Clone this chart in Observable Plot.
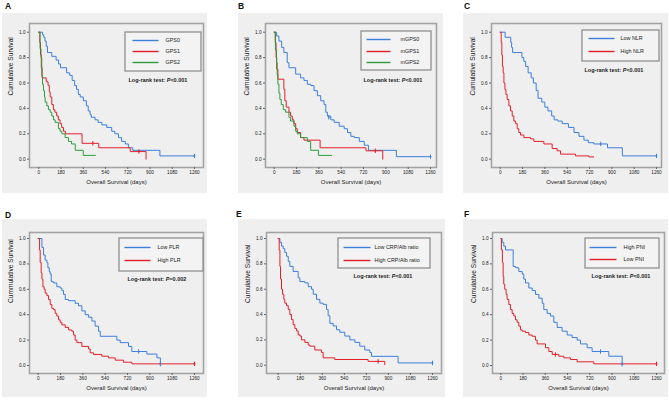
<!DOCTYPE html>
<html><head><meta charset="utf-8">
<script src="https://cdn.jsdelivr.net/npm/d3@7"></script>
<script src="https://cdn.jsdelivr.net/npm/@observablehq/plot@0.6"></script>
<style>
body{margin:0;background:#fff;}
#root{position:relative;width:669px;height:401px;overflow:hidden;font-family:"Liberation Sans",Arial,sans-serif;background:#fff;}
.letter{position:absolute;font-weight:bold;font-size:8.5px;color:#111;line-height:8.5px;}
.bg{position:absolute;background:#efefef;}
.bg svg{position:absolute;left:0;top:0;}
</style></head><body><div id="root"></div><script>
// ---------- tick labels ----------
const ticksX = [0, 180, 360, 540, 720, 900, 1080, 1260];
const ticksY = [0, 0.2, 0.4, 0.6, 0.8, 1.0];
const xTitle = "Overall Survival (days)";
const yTitles = ["Cumulative Survival","Cumulative Survival","Cumulative Survival","Cummulative Survival","Cumulative Survival","Cumulative Survival"];
const panelLetters = ["A","B","C","D","E","F"];
const logRank = ["P<0.001","P<0.001","P<0.001","P=0.002","P<0.001","P<0.001"];

// ---------- series names ----------
const namesA = ["GPS0","GPS1","GPS2"];
const namesB = ["mGPS0","mGPS1","mGPS2"];
const namesC = ["Low NLR","High NLR"];
const namesD = ["Low PLR","High PLR"];
const namesE = ["Low CRP/Alb ratio","High CRP/Alb ratio"];
const namesF = ["High PNI","Low PNI"];

// ---------- Kaplan-Meier steps [day, survival] ----------
const A_GPS0 = [[0,1],[30,0.98],[40,0.96],[50,0.93],[60,0.89],[70,0.84],[105,0.81],[140,0.78],[160,0.75],[175,0.72],[225,0.68],[250,0.66],[270,0.62],[290,0.58],[305,0.55],[320,0.51],[335,0.49],[360,0.46],[385,0.42],[400,0.38],[415,0.35],[425,0.33],[455,0.31],[480,0.29],[510,0.27],[550,0.25],[590,0.22],[615,0.20],[645,0.17],[670,0.14],[700,0.12],[725,0.09],[760,0.07],[980,0.026],[1260,0.026]];
const A_GPS1 = [[0,1],[8,0.92],[14,0.82],[20,0.72],[27,0.64],[60,0.61],[75,0.58],[85,0.53],[92,0.49],[105,0.43],[118,0.39],[130,0.37],[145,0.34],[158,0.31],[172,0.28],[185,0.25],[200,0.22],[215,0.20],[350,0.125],[485,0.09],[740,0.06],[868,0]];
const A_GPS2 = [[0,1],[10,0.87],[18,0.80],[24,0.66],[30,0.59],[38,0.54],[46,0.49],[51,0.45],[65,0.42],[78,0.39],[92,0.37],[105,0.34],[119,0.31],[132,0.29],[159,0.24],[173,0.22],[186,0.20],[213,0.17],[240,0.14],[265,0.12],[295,0.07],[360,0.03],[459,0.03]];
const A_cens = [[1260,0.026,"GPS0"],[437,0.125,"GPS1"],[810,0.06,"GPS1"]];

const B_mGPS0 = [[0,1],[19,0.97],[38,0.93],[60,0.88],[78,0.84],[105,0.76],[119,0.72],[173,0.67],[213,0.64],[240,0.62],[267,0.59],[294,0.58],[321,0.54],[348,0.50],[375,0.46],[402,0.43],[416,0.37],[429,0.34],[456,0.31],[483,0.29],[524,0.26],[564,0.24],[591,0.21],[618,0.18],[645,0.17],[686,0.14],[726,0.11],[760,0.07],[985,0.02],[1260,0.02]];
const B_mGPS1 = [[0,1],[8,0.92],[15,0.80],[20,0.71],[30,0.63],[78,0.55],[86,0.46],[97,0.41],[119,0.37],[132,0.34],[146,0.31],[159,0.28],[173,0.24],[186,0.21],[213,0.17],[240,0.15],[370,0.09],[740,0.066],[875,0]];
const B_mGPS2 = [[0,1],[10,0.86],[19,0.76],[24,0.66],[30,0.59],[38,0.52],[46,0.47],[57,0.43],[73,0.39],[92,0.37],[119,0.33],[132,0.30],[159,0.26],[173,0.22],[186,0.20],[213,0.17],[267,0.14],[294,0.07],[357,0.03],[464,0.03]];
const B_cens = [[440,0.33,"mGPS0"],[1260,0.02,"mGPS0"],[815,0.066,"mGPS1"]];

const C_low = [[0,1],[40,0.96],[85,0.92],[92,0.88],[100,0.84],[175,0.80],[190,0.77],[205,0.73],[225,0.68],[250,0.64],[268,0.60],[290,0.54],[305,0.48],[335,0.45],[360,0.41],[385,0.38],[415,0.34],[435,0.31],[465,0.30],[500,0.28],[550,0.25],[595,0.21],[635,0.18],[675,0.15],[710,0.13],[755,0.12],[865,0.09],[985,0.026],[1260,0.026]];
const C_high = [[0,1],[8,0.92],[13,0.82],[18,0.73],[24,0.68],[30,0.60],[38,0.55],[46,0.51],[56,0.47],[70,0.42],[83,0.38],[97,0.34],[110,0.30],[124,0.28],[137,0.24],[150,0.21],[164,0.19],[191,0.17],[245,0.16],[271,0.14],[352,0.12],[419,0.084],[459,0.066],[486,0.04],[607,0.026],[715,0.018],[755,0.018]];
const C_cens = [[810,0.12,"Low NLR"],[1260,0.026,"Low NLR"]];

const D_low = [[0,1],[30,0.93],[43,0.87],[56,0.83],[70,0.81],[78,0.77],[89,0.74],[97,0.72],[105,0.66],[124,0.65],[150,0.62],[177,0.61],[191,0.59],[204,0.56],[218,0.52],[245,0.51],[298,0.49],[325,0.47],[352,0.43],[379,0.40],[406,0.38],[433,0.35],[459,0.31],[486,0.27],[500,0.23],[634,0.20],[661,0.18],[728,0.15],[755,0.11],[876,0.09],[957,0.06],[985,0.01]];
const D_high = [[0,1],[11,0.91],[16,0.81],[24,0.73],[30,0.68],[38,0.62],[48,0.60],[56,0.57],[70,0.55],[83,0.52],[97,0.48],[110,0.45],[124,0.44],[137,0.41],[150,0.39],[164,0.36],[177,0.34],[191,0.32],[218,0.30],[245,0.28],[271,0.27],[285,0.24],[298,0.20],[312,0.18],[352,0.15],[406,0.13],[419,0.10],[446,0.087],[513,0.073],[567,0.06],[621,0.042],[688,0.026],[755,0.013],[1260,0.013]];
const D_cens = [[810,0.11,"Low PLR"],[985,0.01,"Low PLR"],[1260,0.013,"High PLR"]];

const E_low = [[0,1],[14,0.97],[27,0.94],[41,0.92],[54,0.89],[68,0.86],[82,0.82],[95,0.78],[122,0.74],[163,0.69],[177,0.66],[218,0.65],[245,0.62],[272,0.60],[286,0.56],[313,0.52],[340,0.49],[367,0.48],[394,0.44],[408,0.39],[422,0.33],[449,0.31],[476,0.28],[503,0.26],[544,0.23],[585,0.20],[626,0.18],[666,0.15],[707,0.12],[748,0.10],[762,0.07],[979,0.018],[1260,0.018]];
const E_high = [[0,1],[8,0.91],[14,0.78],[19,0.68],[27,0.60],[35,0.56],[46,0.52],[54,0.49],[68,0.47],[82,0.44],[95,0.40],[109,0.36],[122,0.32],[136,0.29],[150,0.27],[163,0.24],[177,0.23],[190,0.20],[218,0.18],[245,0.16],[258,0.15],[299,0.12],[354,0.10],[367,0.058],[462,0.045],[734,0.03],[870,0.005]];
const E_cens = [[1260,0.018,"Low CRP/Alb ratio"],[816,0.03,"High CRP/Alb ratio"]];

const F_high = [[0,1],[11,0.97],[24,0.94],[38,0.91],[100,0.78],[119,0.77],[146,0.74],[173,0.72],[186,0.68],[200,0.65],[227,0.61],[254,0.59],[281,0.56],[308,0.53],[335,0.49],[348,0.44],[375,0.41],[402,0.39],[429,0.34],[456,0.30],[496,0.27],[537,0.24],[577,0.22],[618,0.20],[645,0.17],[699,0.14],[739,0.11],[874,0.073],[982,0.01]];
const F_low = [[0,1],[5,0.91],[13,0.81],[19,0.70],[24,0.64],[32,0.60],[43,0.56],[51,0.52],[65,0.48],[78,0.44],[92,0.41],[105,0.39],[119,0.36],[132,0.34],[146,0.31],[159,0.28],[173,0.27],[200,0.26],[227,0.24],[254,0.23],[281,0.20],[294,0.17],[362,0.14],[389,0.11],[416,0.087],[469,0.073],[510,0.06],[564,0.047],[618,0.029],[753,0.013],[1260,0.013]];
const F_cens = [[807,0.11,"High PNI"],[982,0.01,"High PNI"],[442,0.087,"Low PNI"],[1260,0.013,"Low PNI"]];

// ---------- colours ----------
const BLUE = "#3c7fdc", RED = "#e3202a", GREEN = "#2e9c3c";

// ---------- panel layout (page pixels) ----------
const panels = [
  {letter:[5,9.5], bg:[2,13,207,193], frame:[29,23,203,167], xpx:[38.3,194], ypx:[158.7,31.7],
   names:namesA, colors:[BLUE,RED,GREEN], series:[A_GPS0,A_GPS1,A_GPS2], cens:A_cens,
   leg:{box:[125,32,201,71], line:[132,158], rows:[40,51,62], tx:165}, lr:[128,79.5]},
  {letter:[238,9.5], bg:[238,13,443,193], frame:[265,23,436,167], xpx:[273.7,430], ypx:[158.7,31.7],
   names:namesB, colors:[BLUE,RED,GREEN], series:[B_mGPS0,B_mGPS1,B_mGPS2], cens:B_cens,
   leg:{box:[361,31,431,70], line:[366,390], rows:[39,51,62], tx:400}, lr:[363,79.5]},
  {letter:[464,9.5], bg:[463,13,668,193], frame:[491,23,661,167], xpx:[499.7,656], ypx:[158.7,31.7],
   names:namesC, colors:[BLUE,RED], series:[C_low,C_high], cens:C_cens,
   leg:{box:[582,30,659,61], line:[588,614], rows:[38,51], tx:620}, lr:[584,70]},
  {letter:[5,218], bg:[2,219,207,397], frame:[29,232,203,373], xpx:[37.7,194], ypx:[365,238],
   names:namesD, colors:[BLUE,RED], series:[D_low,D_high], cens:D_cens,
   leg:{box:[119,238,203,271], line:[124,150], rows:[247,260], tx:157}, lr:[127,279]},
  {letter:[236,217], bg:[238,219,445,397], frame:[266,232,441,373], xpx:[277.7,432], ypx:[364.7,238],
   names:namesE, colors:[BLUE,RED], series:[E_low,E_high], cens:E_cens,
   leg:{box:[338,238,430,268], line:[343,370], rows:[247,260], tx:374}, lr:[353,276]},
  {letter:[464,217], bg:[463,219,668,397], frame:[492,232,664,373], xpx:[500.3,656], ypx:[365,238],
   names:namesF, colors:[BLUE,RED], series:[F_high,F_low], cens:F_cens,
   leg:{box:[585,238,659,268], line:[589,616], rows:[247,259], tx:623}, lr:[591,276]}
];

const censorSymbol = {draw(ctx){ ctx.moveTo(0,-2.2); ctx.lineTo(0,2.2); ctx.moveTo(-1,0); ctx.lineTo(1,0); }};
const root = document.getElementById("root");
const FONT = "Liberation Sans, Arial, sans-serif";

panels.forEach((p, i) => {
  const lt = document.createElement("div");
  lt.className = "letter";
  lt.textContent = panelLetters[i];
  lt.style.left = p.letter[0] + "px";
  lt.style.top = (p.letter[1] - 7.4) + "px";
  root.appendChild(lt);

  const [bx0, by0, bx1, by1] = p.bg;
  const W = bx1 - bx0, H = by1 - by0;
  const div = document.createElement("div");
  div.className = "bg";
  Object.assign(div.style, {left: bx0 + "px", top: by0 + "px", width: W + "px", height: H + "px"});
  root.appendChild(div);

  // page px -> data
  const xi = d3.scaleLinear([0, 1260], p.xpx);
  const yi = d3.scaleLinear([0, 1], p.ypx);

  const lines = [];
  p.series.forEach((s, k) => s.forEach(([t, v]) => lines.push({t, s: v, g: p.names[k]})));
  const cens = p.cens.map(([t, v, g]) => ({t, s: v, g}));

  const legRows = p.names.map((n, k) => ({n, y: yi.invert(p.leg.rows[k])}));
  const L = p.leg;

  const svg = Plot.plot({
    width: W, height: H,
    marginLeft: p.frame[0] - bx0, marginRight: bx1 - p.frame[2],
    marginTop: p.frame[1] - by0, marginBottom: by1 - p.frame[3],
    style: {background: "transparent", fontFamily: FONT, color: "#222", overflow: "visible", maxWidth: "none"},
    x: {domain: [0, 1260], range: [p.xpx[0] - bx0, p.xpx[1] - bx0]},
    y: {domain: [0, 1], range: [p.ypx[0] - by0, p.ypx[1] - by0]},
    color: {domain: p.names, range: p.colors},
    marks: [
      Plot.frame({stroke: "#a3a3a3", strokeWidth: 1.6}),
      Plot.axisX(ticksX, {tickSize: 2, tickPadding: 1.5, fontSize: 4.7, stroke: "#666", tickFormat: d => String(d), label: null}),
      Plot.axisY(ticksY, {tickSize: 2, tickPadding: 2, fontSize: 4.7, stroke: "#666", tickFormat: d3.format(".1f"), label: null}),
      Plot.text([xTitle], {frameAnchor: "bottom", dy: 16, text: d => d, fontSize: 6, fill: "#222"}),
      Plot.text([yTitles[i]], {frameAnchor: "left", dx: -19, rotate: -90, text: d => d, fontSize: 6.6, fill: "#222"}),
      Plot.rect([L], {x1: () => xi.invert(L.box[0]), x2: () => xi.invert(L.box[2]), y1: () => yi.invert(L.box[1]), y2: () => yi.invert(L.box[3]),
        fill: "#f3f3f3", stroke: "#8f8f8f", strokeWidth: 1.3}),
      Plot.link(legRows, {x1: () => xi.invert(L.line[0]), x2: () => xi.invert(L.line[1]), y1: "y", y2: "y", stroke: "n", strokeWidth: 1.4}),
      Plot.text(legRows, {x: () => xi.invert(L.tx), y: "y", text: "n", textAnchor: "start", fontSize: 5.4, fill: "#222"}),
      Plot.text(["Log-rank test: " + logRank[i]], {x: () => xi.invert(p.lr[0]), y: () => yi.invert(p.lr[1]), text: d => d,
        textAnchor: "start", fontSize: 5.5, fontWeight: "bold", fill: "#222"}),
      Plot.line(lines, {x: "t", y: "s", z: "g", stroke: "g", curve: "step-after", strokeWidth: 1}),
      Plot.dot(cens, {x: "t", y: "s", stroke: "g", symbol: censorSymbol, r: 2, strokeWidth: 1, fill: "none"})
    ]
  });
  // italic P in the log-rank note
  d3.select(svg).selectAll("text").each(function() {
    const tc = this.textContent;
    if (tc.startsWith("Log-rank test: ")) {
      const rest = tc.slice("Log-rank test: ".length);
      const el = d3.select(this);
      const tsp = el.selectAll("tspan");
      const target = tsp.size() ? d3.select(tsp.node()) : el;
      target.text(null);
      target.append("tspan").text("Log-rank test: ");
      target.append("tspan").attr("font-style", "italic").text(rest[0]);
      target.append("tspan").text(rest.slice(1));
    }
  });
  div.appendChild(svg);
});
</script></body></html>
